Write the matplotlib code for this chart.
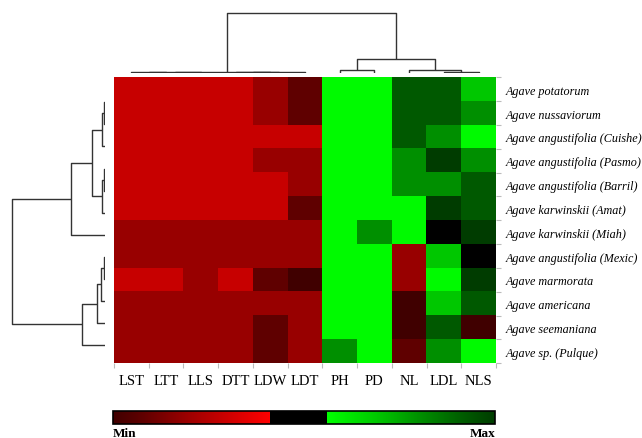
import numpy as np
import matplotlib
matplotlib.use("Agg")
import matplotlib.pyplot as plt
from matplotlib.colors import LinearSegmentedColormap

W, H = 642, 439

species = [
    "Agave potatorum",
    "Agave nussaviorum",
    "Agave angustifolia (Cuishe)",
    "Agave angustifolia (Pasmo)",
    "Agave angustifolia (Barril)",
    "Agave karwinskii (Amat)",
    "Agave karwinskii (Miah)",
    "Agave angustifolia (Mexic)",
    "Agave marmorata",
    "Agave americana",
    "Agave seemaniana",
    "Agave sp. (Pulque)",
]
traits = ["LST", "LTT", "LLS", "DTT", "LDW", "LDT", "PH", "PD", "NL", "LDL", "NLS"]

# scaled trait scores (0 = Min, 1 = Max)
scores = np.array([
    [0.29, 0.29, 0.29, 0.29, 0.19, 0.08, 0.57, 0.57, 0.92, 0.92, 0.69],
    [0.29, 0.29, 0.29, 0.29, 0.19, 0.08, 0.57, 0.57, 0.92, 0.92, 0.80],
    [0.29, 0.29, 0.29, 0.29, 0.29, 0.29, 0.57, 0.57, 0.92, 0.80, 0.57],
    [0.29, 0.29, 0.29, 0.29, 0.19, 0.19, 0.57, 0.57, 0.80, 1.00, 0.80],
    [0.29, 0.29, 0.29, 0.29, 0.29, 0.19, 0.57, 0.57, 0.80, 0.80, 0.92],
    [0.29, 0.29, 0.29, 0.29, 0.29, 0.08, 0.57, 0.57, 0.57, 1.00, 0.92],
    [0.19, 0.19, 0.19, 0.19, 0.19, 0.19, 0.57, 0.80, 0.57, 0.48, 1.00],
    [0.19, 0.19, 0.19, 0.19, 0.19, 0.19, 0.57, 0.57, 0.19, 0.69, 0.48],
    [0.29, 0.29, 0.19, 0.29, 0.08, 0.00, 0.57, 0.57, 0.19, 0.57, 1.00],
    [0.19, 0.19, 0.19, 0.19, 0.19, 0.19, 0.57, 0.57, 0.00, 0.69, 0.92],
    [0.19, 0.19, 0.19, 0.19, 0.08, 0.19, 0.57, 0.57, 0.00, 0.92, 0.00],
    [0.19, 0.19, 0.19, 0.19, 0.08, 0.19, 0.80, 0.57, 0.08, 0.80, 0.57],
])

# linkage merges: (child a, child b, height); new nodes numbered after leaves
row_links = [
    (0, 1, 1.0), (12, 2, 3.6), (3, 4, 1.0), (14, 5, 3.6), (13, 15, 13.6),
    (16, 6, 34.6), (7, 8, 1.0), (18, 9, 4.6), (19, 10, 8.6), (20, 11, 23.6),
    (17, 21, 93.0),
]
col_links = [
    (0, 1, 0.3), (11, 2, 0.5), (3, 4, 0.4), (13, 5, 0.6), (12, 14, 0.8),
    (6, 7, 2.8), (9, 10, 0.8), (8, 17, 2.8), (16, 18, 13.5), (15, 19, 59.8),
]

cmap = LinearSegmentedColormap.from_list("minmax", [
    (0.00, "#400000"), (0.08, "#600000"), (0.19, "#990000"), (0.29, "#c80000"),
    (0.41, "#ff0000"), (0.41, "#000000"), (0.56, "#000000"), (0.56, "#00ff00"),
    (0.69, "#00c800"), (0.80, "#009000"), (0.92, "#005a00"), (1.00, "#003c00"),
], N=1024)

serif = "Liberation Serif"


def box(x0, y0, x1, y1):
    # pixel box (top-left origin) -> figure fraction
    return [x0 / W, 1 - y1 / H, (x1 - x0) / W, (y1 - y0) / H]


def draw_dendro(ax, links, n, horizontal):
    pos = {i: float(i) for i in range(n)}
    hgt = {i: 0.0 for i in range(n)}
    for k, (a, b, h) in enumerate(links):
        xs = [hgt[a], h, h, hgt[b]]
        ys = [pos[a], pos[a], pos[b], pos[b]]
        if horizontal:
            ax.plot(xs, ys, color="#333333", lw=1.0, solid_capstyle="butt")
        else:
            ax.plot(ys, xs, color="#333333", lw=1.0, solid_capstyle="butt")
        pos[n + k] = (pos[a] + pos[b]) / 2
        hgt[n + k] = h
    ax.axis("off")


fig = plt.figure(figsize=(W / 100, H / 100), dpi=100)

# heatmap
ax = fig.add_axes(box(114, 78.3, 496, 364.3))
ax.imshow(scores, cmap=cmap, vmin=0, vmax=1, aspect="auto", interpolation="nearest")
ax.set_xticks(np.arange(len(traits)))
ax.set_xticklabels(traits, family=serif, fontsize=10.5)
ax.set_yticks(np.arange(len(species)))
ax.set_yticklabels(species, family=serif, style="italic", fontsize=8.7)
ax.yaxis.tick_right()
ax.tick_params(axis="both", which="major", length=0)
ax.tick_params(axis="x", pad=8)
ax.tick_params(axis="y", pad=7)
ax.set_xticks(np.arange(len(traits) + 1) - 0.5, minor=True)
ax.set_yticks(np.arange(len(species) + 1) - 0.5, minor=True)
ax.tick_params(which="minor", length=3.5, color="#bbbbbb", width=0.8)
ax.tick_params(axis="y", which="minor", right=True, left=False)
for s in ax.spines.values():
    s.set_visible(False)

# column dendrogram
axc = fig.add_axes(box(114, 11.5, 496, 73.5))
draw_dendro(axc, col_links, len(traits), horizontal=False)
axc.set_xlim(-0.5, len(traits) - 0.5)
axc.set_ylim(0, 62)

# row dendrogram
axr = fig.add_axes(box(8.3, 92.3, 105.3, 357.1))
draw_dendro(axr, row_links, len(species), horizontal=True)
axr.set_xlim(97, 0)
axr.set_ylim(len(species) - 0.5, -0.5)

# colour key
cax = fig.add_axes(box(113, 412.3, 495, 425.3))
cb = fig.colorbar(ax.images[0], cax=cax, orientation="horizontal")
cb.set_ticks([])
cb.outline.set_linewidth(1.2)
cb.outline.set_edgecolor("black")
fig.text(113 / W, 1 - 428 / H, "Min", family=serif, weight="bold", fontsize=9.5, va="top", ha="left")
fig.text(495 / W, 1 - 428 / H, "Max", family=serif, weight="bold", fontsize=9.5, va="top", ha="right")

fig.savefig("out.png", dpi=100)
